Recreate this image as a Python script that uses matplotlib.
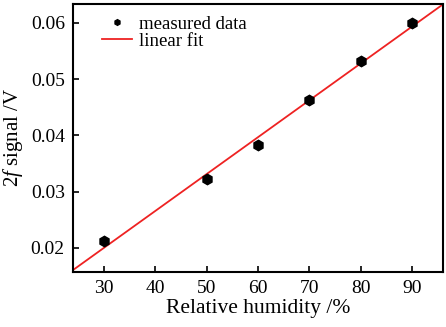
import numpy as np
import matplotlib
matplotlib.use("Agg")
import matplotlib.pyplot as plt

# measured data
humidity = [30, 50, 60, 70, 80, 90]
signal = [0.0212, 0.0322, 0.0383, 0.0463, 0.0532, 0.0599]

plt.rcParams['font.family'] = ['Liberation Serif', 'DejaVu Serif']
plt.rcParams['mathtext.fontset'] = 'custom'
plt.rcParams['mathtext.it'] = 'Liberation Serif:italic'
plt.rcParams['mathtext.rm'] = 'Liberation Serif'

fig = plt.figure(figsize=(4.46, 3.27), dpi=100)
ax = fig.add_axes([0.164, 0.168, 0.829, 0.821])

# linear fit over full x range
k, b = np.polyfit(humidity, signal, 1)
xfit = np.array([24, 96])
ax.plot(humidity, signal, 'h', color='black', ms=7.5, label='measured data', zorder=3)
ax.plot(xfit, k * xfit + b, color='#ee2222', lw=1.3, label='linear fit', zorder=2)

ax.set_xlim(24, 96)
ax.set_ylim(0.0157, 0.0634)
ax.set_xticks([30, 40, 50, 60, 70, 80, 90])
ax.set_yticks([0.02, 0.03, 0.04, 0.05, 0.06])
ax.set_yticklabels(['0.02', '0.03', '0.04', '0.05', '0.06'])

ax.tick_params(direction='in', length=4, width=1.2, labelsize=14, pad=6)
for s in ax.spines.values():
    s.set_linewidth(1.5)

ax.set_xlabel('Relative humidity /%', fontsize=15.5, labelpad=1)
ax.set_ylabel('2$f$ signal /V', fontsize=15, labelpad=4)

ax.legend(loc='upper left', frameon=False, fontsize=13.5, markerscale=0.55,
          handlelength=1.6, handletextpad=0.38, labelspacing=0.0,
          borderaxespad=0, borderpad=0, bbox_to_anchor=(0.078, 0.955))

plt.savefig('out.png', dpi=100)
